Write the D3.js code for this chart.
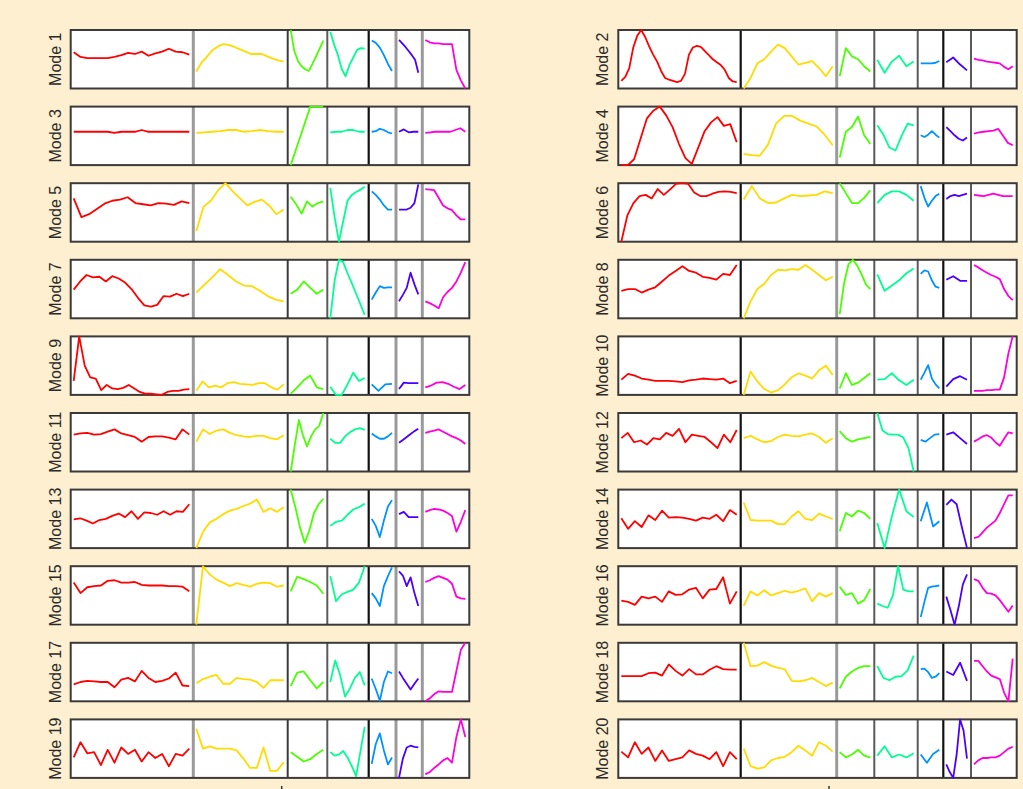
<!DOCTYPE html>
<html>
<head>
<meta charset="UTF-8">
<title>Modes</title>
<script src="https://d3js.org/d3.v7.min.js"></script>
<style>
  body { margin: 0; background: #fdefcf; }
  svg { display: block; }
  .label { font-family: "Liberation Sans", Arial, sans-serif; font-size: 16px; fill: #2a2a2a; }
</style>
</head>
<body>
<div id="chart"></div>
<script>
// one colour per segment (R rainbow(7))
const segmentColors = ["#FF0000", "#FFDB00", "#49FF00", "#00FF92", "#0092FF", "#4900FF", "#FF00DB"];

const modeLabels = ["Mode 1", "Mode 2", "Mode 3", "Mode 4", "Mode 5", "Mode 6", "Mode 7", "Mode 8", "Mode 9", "Mode 10",
  "Mode 11", "Mode 12", "Mode 13", "Mode 14", "Mode 15", "Mode 16", "Mode 17", "Mode 18", "Mode 19", "Mode 20"];

// each mode: 7 segments (red, yellow, green, cyan, blue, purple, magenta)
const mode1 = [
  [62, 54, 52, 52, 52, 52, 54, 57, 61, 59, 63, 56, 60, 63, 68, 63, 62, 58],
  [29, 45, 55, 66, 72, 76, 74, 71, 67, 63, 59, 59, 59, 55, 51, 48, 46],
  [100, 64, 47, 38, 33, 30, 42, 55, 68, 82],
  [97, 75, 57, 33, 21, 40, 53, 66, 69, 68],
  [82, 78, 70, 57, 42, 30],
  [83, 77, 71, 64, 57, 49, 27],
  [83, 79, 77, 77, 76, 76, 76, 32, 14, 0]
];
const mode2 = [
  [13, 20, 35, 70, 90, 100, 88, 72, 58, 46, 30, 18, 15, 13, 11, 13, 25, 58, 70, 73, 71, 64, 57, 50, 45, 40, 32, 18, 12, 11],
  [0, 18, 43, 50, 63, 75, 69, 55, 41, 44, 47, 35, 21, 38],
  [21, 69, 55, 50, 38, 29],
  [49, 27, 46, 56, 38, 46],
  [43, 43, 43, 43, 44, 47],
  [45, 53, 41, 31],
  [51, 49, 48, 46, 45, 44, 43, 37, 33, 38]
];
const mode3 = [
  [57, 57, 57, 57, 57, 57, 55, 57, 57, 57, 60, 57, 57, 57, 57, 57, 57, 57],
  [55, 56, 57, 58, 60, 60, 57, 58, 60, 58, 57, 57],
  [0, 33, 66, 100, 100, 100],
  [56, 57, 57, 60, 60, 57, 57],
  [57, 58, 62, 60, 56, 54],
  [57, 61, 56, 57, 57],
  [55, 56, 57, 57, 57, 57, 60, 63, 57]
];
const mode4 = [
  [0, 0, 10, 45, 80, 93, 100, 85, 65, 36, 12, 2, 30, 58, 73, 82, 67, 70, 39],
  [19, 17, 16, 35, 71, 84, 84, 76, 71, 66, 52, 34],
  [13, 57, 65, 83, 51, 36],
  [68, 52, 30, 25, 50, 71, 68],
  [51, 48, 52, 58, 52, 47],
  [65, 58, 51, 45, 42, 47],
  [54, 56, 57, 58, 59, 62, 50, 38, 34]
];
const mode5 = [
  [74, 42, 47, 56, 65, 70, 72, 76, 66, 64, 62, 66, 65, 63, 69, 66],
  [18, 60, 70, 88, 100, 86, 74, 62, 68, 72, 62, 47, 55],
  [77, 64, 48, 69, 60, 66, 69],
  [92, 42, 0, 35, 70, 80, 85, 89, 94],
  [86, 80, 72, 62, 55, 55],
  [55, 55, 55, 58, 66, 98],
  [90, 89, 88, 75, 62, 57, 54, 45, 38, 38]
];
const mode6 = [
  [0, 45, 66, 78, 80, 74, 90, 80, 89, 99, 100, 99, 84, 78, 78, 82, 85, 86, 85, 83],
  [72, 95, 74, 66, 67, 74, 80, 78, 79, 80, 86, 83],
  [100, 83, 66, 66, 75, 88],
  [66, 80, 86, 86, 80, 70],
  [95, 75, 60, 70, 78, 82],
  [73, 78, 80, 78, 80, 82],
  [80, 79, 78, 80, 82, 80, 78, 78, 78]
];
const mode7 = [
  [49, 63, 74, 70, 71, 63, 72, 68, 61, 50, 35, 22, 20, 23, 38, 37, 42, 38, 42],
  [44, 57, 70, 84, 74, 63, 56, 55, 47, 38, 32, 29],
  [42, 49, 63, 52, 42, 49],
  [0, 64, 100, 96, 77, 60, 42, 24, 6],
  [32, 44, 55, 52, 53, 53],
  [29, 40, 52, 78, 58, 41],
  [29, 26, 22, 17, 36, 45, 52, 63, 78, 96]
];
const mode8 = [
  [47, 50, 50, 44, 49, 53, 63, 73, 81, 89, 81, 78, 71, 69, 66, 76, 74, 91],
  [0, 29, 50, 59, 74, 83, 82, 84, 83, 91, 83, 74, 65, 71],
  [7, 60, 92, 100, 90, 75, 58, 50],
  [75, 47, 56, 65, 77, 85],
  [76, 82, 80, 65, 54, 52],
  [66, 72, 64, 64],
  [91, 87, 82, 78, 74, 71, 67, 50, 38, 31]
];
const mode9 = [
  [24, 100, 50, 30, 28, 8, 17, 11, 10, 12, 17, 11, 5, 2, 2, 1, 0, 5, 7, 7, 9, 10],
  [7, 23, 13, 16, 13, 20, 22, 19, 18, 17, 20, 20, 13, 9, 18],
  [2, 13, 25, 33, 13, 10],
  [14, 0, 0, 18, 38, 24, 29],
  [18, 7, 18, 19],
  [10, 21, 20, 20, 20],
  [13, 16, 21, 22, 19, 14, 10, 17]
];
const mode10 = [
  [26, 36, 33, 28, 26, 24, 24, 24, 23, 22, 25, 26, 28, 27, 26, 28, 20, 24],
  [0, 40, 23, 10, 4, 8, 18, 30, 37, 33, 28, 42, 50, 34],
  [11, 37, 17, 21, 29, 37],
  [26, 27, 37, 25, 17, 26],
  [26, 38, 51, 28, 18, 11],
  [14, 27, 32, 26],
  [7, 7, 7, 8, 8, 9, 9, 30, 71, 100]
];
const mode11 = [
  [63, 65, 66, 63, 64, 68, 72, 65, 62, 59, 51, 59, 60, 60, 58, 55, 72, 63],
  [51, 72, 64, 70, 72, 66, 62, 60, 59, 61, 61, 57, 55, 62],
  [0, 45, 88, 62, 43, 60, 72, 78, 100],
  [56, 49, 49, 60, 67, 72, 74, 71],
  [65, 60, 56, 56, 60, 66],
  [49, 54, 59, 64, 69, 73],
  [66, 68, 70, 72, 68, 64, 60, 57, 53, 47]
];
const mode12 = [
  [57, 66, 50, 53, 46, 57, 55, 66, 61, 73, 50, 63, 61, 59, 50, 40, 63, 50, 71],
  [57, 61, 55, 50, 52, 59, 63, 61, 60, 63, 65, 59, 49, 57],
  [69, 57, 51, 55, 57, 59],
  [100, 70, 64, 63, 63, 58, 40, 0],
  [54, 51, 57, 63, 64],
  [63, 67, 57, 47],
  [51, 55, 60, 62, 58, 50, 44, 56, 67, 65]
];
const mode13 = [
  [49, 51, 47, 42, 48, 50, 55, 59, 53, 63, 50, 61, 60, 57, 63, 57, 63, 62, 75],
  [0, 28, 44, 50, 58, 64, 67, 72, 76, 83, 62, 68, 62, 70],
  [100, 70, 35, 9, 30, 60, 75, 84],
  [38, 45, 47, 57, 66, 70, 76],
  [50, 38, 19, 47, 71, 82],
  [58, 62, 53, 53, 53],
  [62, 65, 67, 66, 64, 60, 55, 28, 45, 65]
];
const mode14 = [
  [51, 33, 46, 36, 56, 48, 64, 52, 53, 52, 50, 47, 52, 50, 57, 46, 65, 57],
  [78, 48, 47, 47, 47, 41, 41, 54, 63, 50, 48, 59, 54, 50],
  [29, 60, 54, 64, 60, 50],
  [43, 0, 54, 100, 63, 53],
  [46, 78, 37, 46],
  [74, 83, 75, 36, 0],
  [17, 19, 27, 35, 41, 47, 60, 75, 90, 90]
];
const mode15 = [
  [72, 54, 64, 66, 67, 75, 76, 72, 72, 73, 68, 67, 67, 67, 66, 66, 65, 57],
  [0, 100, 86, 77, 72, 66, 71, 68, 65, 70, 72, 71, 65, 67],
  [57, 82, 78, 73, 67, 53],
  [83, 40, 52, 56, 60, 72, 100],
  [54, 45, 32, 66, 83, 98],
  [91, 84, 66, 81, 54, 32],
  [73, 76, 80, 83, 80, 77, 70, 48, 45, 44]
];
const mode16 = [
  [41, 39, 34, 48, 45, 48, 39, 57, 51, 52, 60, 63, 45, 60, 61, 81, 36, 57],
  [32, 57, 50, 59, 50, 54, 58, 55, 58, 62, 40, 54, 48, 54],
  [65, 51, 54, 36, 42, 61],
  [36, 32, 29, 50, 100, 60, 57, 57],
  [13, 39, 63, 65, 66, 67],
  [48, 25, 0, 31, 69, 86],
  [78, 75, 63, 54, 53, 50, 42, 32, 22, 33]
];
const mode17 = [
  [29, 33, 35, 34, 33, 33, 24, 37, 40, 34, 52, 40, 33, 35, 39, 49, 27, 26],
  [31, 38, 42, 45, 30, 30, 40, 38, 37, 33, 23, 36, 36, 36],
  [26, 49, 51, 36, 22, 33],
  [33, 70, 45, 8, 22, 40, 50, 27],
  [39, 21, 1, 33, 51, 48],
  [51, 40, 30, 20, 30, 39],
  [0, 5, 12, 17, 16, 16, 16, 52, 88, 100]
];
const mode18 = [
  [43, 43, 43, 43, 48, 49, 44, 63, 52, 44, 55, 46, 46, 54, 60, 55, 54, 54],
  [100, 60, 61, 67, 61, 57, 55, 35, 34, 36, 40, 33, 26, 32],
  [22, 42, 51, 57, 60, 60],
  [60, 40, 36, 42, 43, 53, 78],
  [55, 56, 50, 40, 42, 48],
  [51, 45, 66, 35],
  [69, 69, 60, 51, 44, 41, 38, 15, 0, 73]
];
const mode19 = [
  [35, 61, 42, 44, 22, 48, 26, 52, 41, 48, 28, 44, 34, 41, 20, 41, 38, 50],
  [84, 50, 54, 50, 50, 50, 47, 33, 17, 17, 52, 12, 12, 27],
  [44, 36, 28, 32, 41, 48],
  [44, 38, 40, 46, 35, 20, 3, 45, 87],
  [24, 58, 76, 47, 23, 35],
  [0, 33, 52, 55, 53, 52],
  [6, 10, 17, 23, 30, 34, 26, 70, 100, 70]
];
const mode20 = [
  [45, 35, 61, 41, 52, 29, 47, 29, 32, 35, 47, 41, 38, 32, 44, 20, 44, 32],
  [50, 20, 16, 18, 30, 34, 36, 44, 55, 47, 38, 61, 55, 45],
  [44, 35, 40, 48, 38, 35],
  [38, 54, 35, 40, 35, 42],
  [40, 26, 41, 48],
  [23, 10, 0, 40, 100, 81, 33],
  [23, 30, 34, 34, 35, 35, 38, 44, 50, 53]
];

const modes = [mode1, mode2, mode3, mode4, mode5, mode6, mode7, mode8, mode9, mode10,
  mode11, mode12, mode13, mode14, mode15, mode16, mode17, mode18, mode19, mode20];

// layout
const width = 1023, height = 789;
const rowTop = 30, rowStep = 76.6, rowHeight = 58.5;
const columnEdges = [
  [70.7, 193.3, 287.7, 327.3, 368.7, 396, 422.3, 469.3],
  [618.3, 740.7, 836.7, 874.3, 917.7, 943.3, 971, 1016.7]
];
const labelX = [61, 608];
const divGray = { stroke: "#9a9a9a", w: 3 };
const divDark = { stroke: "#3a3a3a", w: 2 };
const divMid = { stroke: "#5a5a5a", w: 2 };
const divBlack = { stroke: "#111", w: 2.2 };
const dividerStyles = [
  [divGray, divDark, divMid, divBlack, divGray, divGray],
  [divBlack, divGray, divMid, divMid, divBlack, divMid]
];

const svg = d3.select("#chart")
  .append("svg")
  .attr("width", width)
  .attr("height", height);

svg.append("rect")
  .attr("width", width)
  .attr("height", height)
  .attr("fill", "#fdefcf");

const defs = svg.append("defs");

modes.forEach((mode, i) => {
  const col = i % 2;
  const row = Math.floor(i / 2);
  const top = rowTop + row * rowStep;
  const edges = columnEdges[col];
  const g = svg.append("g");

  const y = d3.scaleLinear()
    .domain(d3.extent(mode.flat()))
    .range([top + rowHeight, top]);

  // white panel backgrounds
  mode.forEach((seg, s) => {
    g.append("rect")
      .attr("x", edges[s]).attr("y", top)
      .attr("width", edges[s + 1] - edges[s]).attr("height", rowHeight)
      .attr("fill", "#fff");
  });

  // dividers between segments
  dividerStyles[col].forEach((st, k) => {
    g.append("line")
      .attr("x1", edges[k + 1]).attr("x2", edges[k + 1])
      .attr("y1", top).attr("y2", top + rowHeight)
      .attr("stroke", st.stroke)
      .attr("stroke-width", st.w);
  });

  // outer frame
  g.append("rect")
    .attr("x", edges[0]).attr("y", top)
    .attr("width", edges[edges.length - 1] - edges[0])
    .attr("height", rowHeight)
    .attr("fill", "none")
    .attr("stroke", "#3a3a3a")
    .attr("stroke-width", 2);

  // curves drawn over the frame, clipped a bit outside the box
  mode.forEach((seg, s) => {
    const x0 = edges[s], x1 = edges[s + 1];
    const clipId = `clip-${i}-${s}`;
    defs.append("clipPath").attr("id", clipId)
      .append("rect")
      .attr("x", x0).attr("y", top - 1)
      .attr("width", x1 - x0).attr("height", rowHeight + 2);

    const x = d3.scaleLinear()
      .domain([0, seg.length - 1])
      .range([x0 + 3, x1 - 4]);

    const line = d3.line()
      .x((d, k) => x(k))
      .y(d => y(d));

    g.append("path")
      .datum(seg)
      .attr("clip-path", `url(#${clipId})`)
      .attr("d", line)
      .attr("fill", "none")
      .attr("stroke", segmentColors[s])
      .attr("stroke-width", 1.8)
      .attr("stroke-linejoin", "round");
  });

  g.append("text")
    .attr("class", "label")
    .attr("transform", `translate(${labelX[col]},${top + rowHeight / 2}) rotate(-90)`)
    .attr("text-anchor", "middle")
    .text(modeLabels[i]);
});

// bits of the bottom axis ticks that peek in at the lower edge
[281.7, 829].forEach(tx => {
  svg.append("line")
    .attr("x1", tx).attr("x2", tx)
    .attr("y1", 786).attr("y2", 790)
    .attr("stroke", "#333")
    .attr("stroke-width", 1.5);
});
</script>
</body>
</html>
